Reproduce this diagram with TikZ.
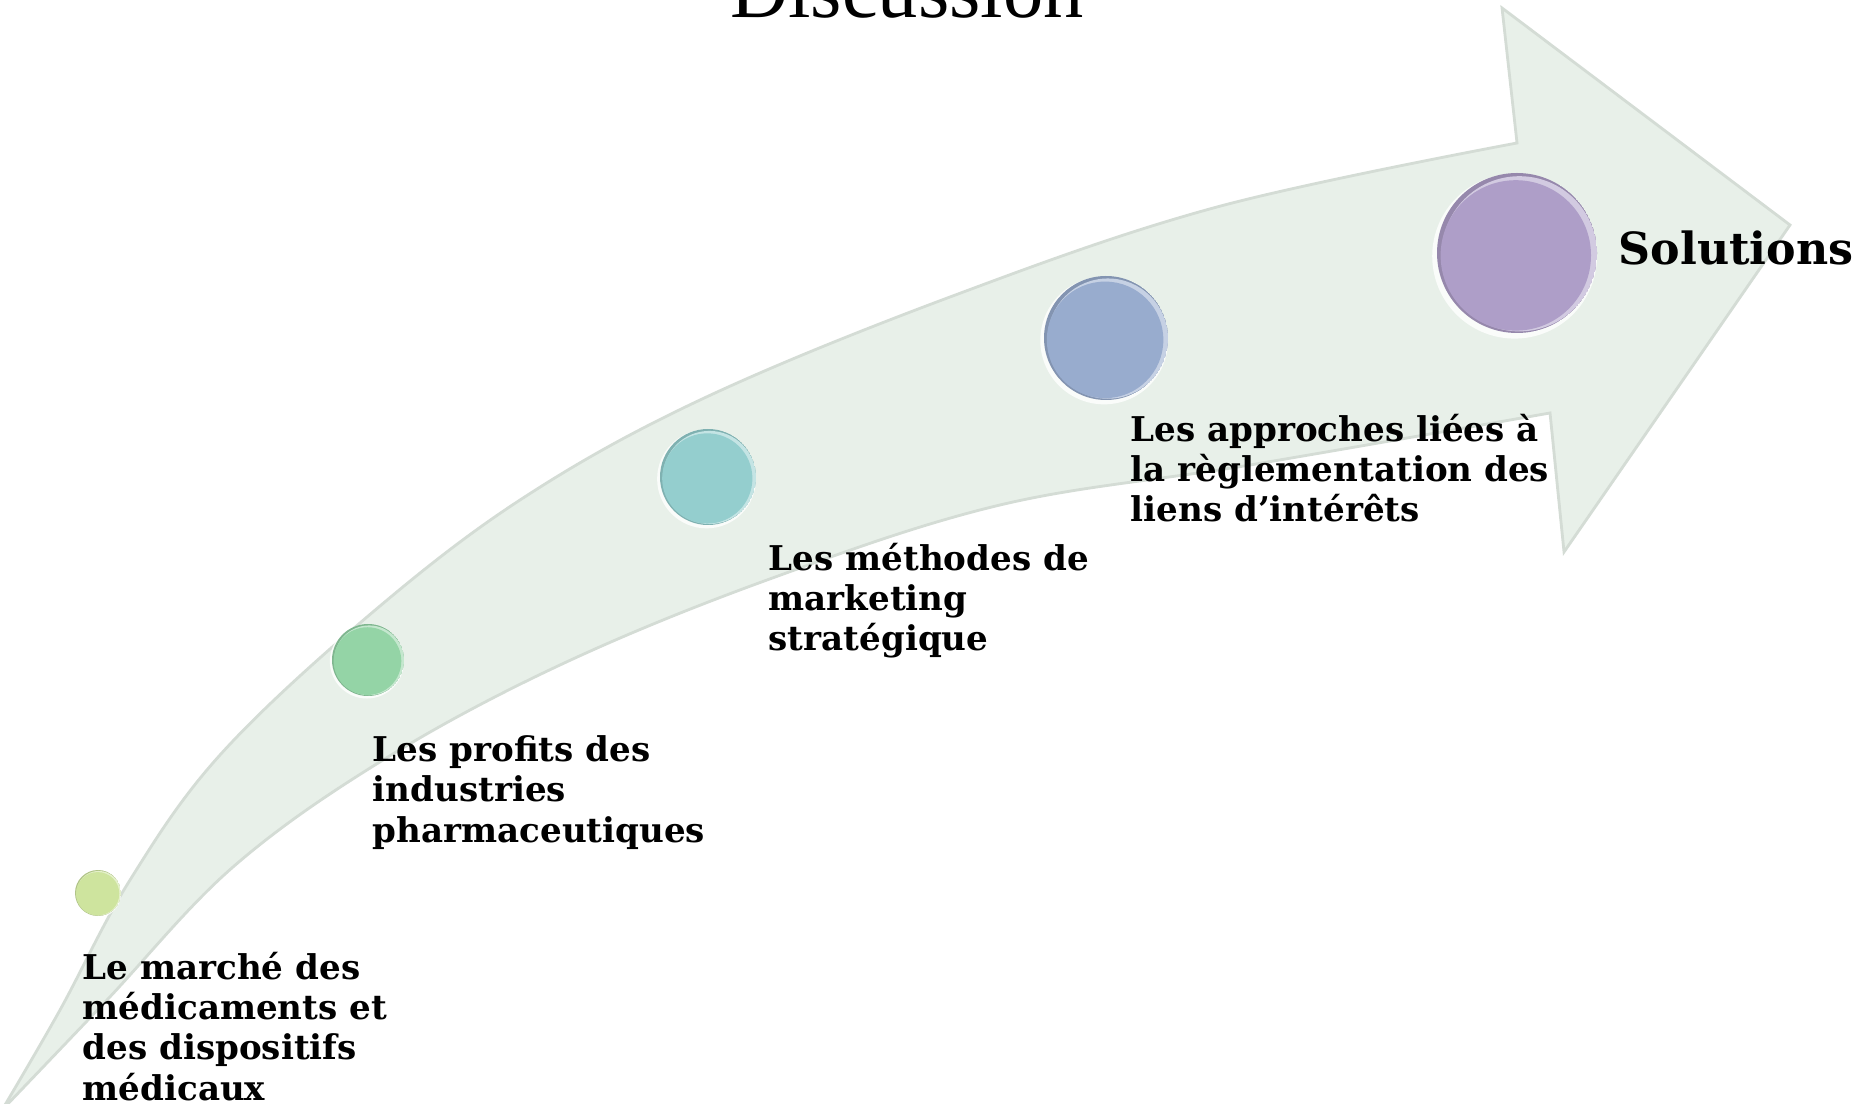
\documentclass[tikz,border=0pt]{standalone}
\usepackage{fontspec}
\setmainfont{DejaVu Serif}
\newfontfamily\titlefont{Liberation Serif}
\usetikzlibrary{calc}
\definecolor{band}{RGB}{232,240,233}
\definecolor{bandedge}{RGB}{212,220,213}
\definecolor{bA}{RGB}{206,228,158}
\definecolor{bB}{RGB}{148,212,166}
\definecolor{bC}{RGB}{148,206,206}
\definecolor{bD}{RGB}{152,172,206}
\definecolor{bE}{RGB}{174,158,200}
\begin{document}
\begin{tikzpicture}[x=0.01cm, y=-0.01cm,
  lab/.style={font=\fontsize{9.7}{11.38}\selectfont\bfseries, align=left, inner sep=0pt, anchor=base west},
  bubble/.style={circle, inner sep=0pt, draw=none}]
\useasboundingbox (0,0) rectangle (1858,1104);
\clip (0,0) rectangle (1858,1104);
% arrow band
\filldraw[fill=band, draw=bandedge, line width=0.8pt]
  plot[smooth, tension=0.6] coordinates {(2,1110) (60,1010) (130,880) (220,755) (367,617) (520,500) (700,400) (950,297) (1217,207) (1517,143)}
  -- (1502,8) -- (1790,225) -- (1564,552) -- (1550,413)
  -- plot[smooth, tension=0.6] coordinates {(1550,413) (1250,465) (1000,505) (767,580) (560,665) (383,760) (233,867) (107,1000) (2,1110)}
  -- cycle;
% bubbles
\foreach \nm/\cx/\cy/\r/\col in {c1/98/893/23/bA, c2/368/660/36/bB, c3/708/477/48/bC, c4/1106/338/62/bD, c5/1517/253/80/bE}{
  \fill[white, opacity=0.8] (\cx-0.03*\r, \cy+0.04*\r) circle ({1.03*\r*0.01cm});
  \begin{scope}
    \clip (\cx,\cy) circle ({\r*0.01cm});
    \fill[\col!86!black] (\cx,\cy) circle ({\r*0.01cm});
    \fill[\col!55!white] (\cx+0.03*\r,\cy+0.01*\r) circle ({0.97*\r*0.01cm});
    \fill[\col] (\cx-0.015*\r,\cy+0.03*\r) circle ({0.94*\r*0.01cm});
  \end{scope}
  \node[bubble, minimum size={2*\r*0.01cm}] (\nm) at (\cx,\cy) {};
}
% texts
\node[font=\titlefont\fontsize{22.9}{26}\selectfont, inner sep=0pt, anchor=base] (title) at (907,18) {Discussion};
\node[lab] (l1) at (82,1100) {Le marché des\\médicaments et\\des dispositifs\\médicaux};
\node[lab] (l2) at (372,842) {Les profits des\\industries\\pharmaceutiques};
\node[lab] (l3) at (768,651) {Les méthodes de\\marketing\\stratégique};
\node[lab] (l4) at (1130,522) {Les approches liées à\\la règlementation des\\liens d’intérêts};
\node[font=\fontsize{12.6}{15}\selectfont\bfseries, inner sep=0pt, anchor=base west] (l5) at (1618,265) {Solutions};
\end{tikzpicture}
\end{document}
